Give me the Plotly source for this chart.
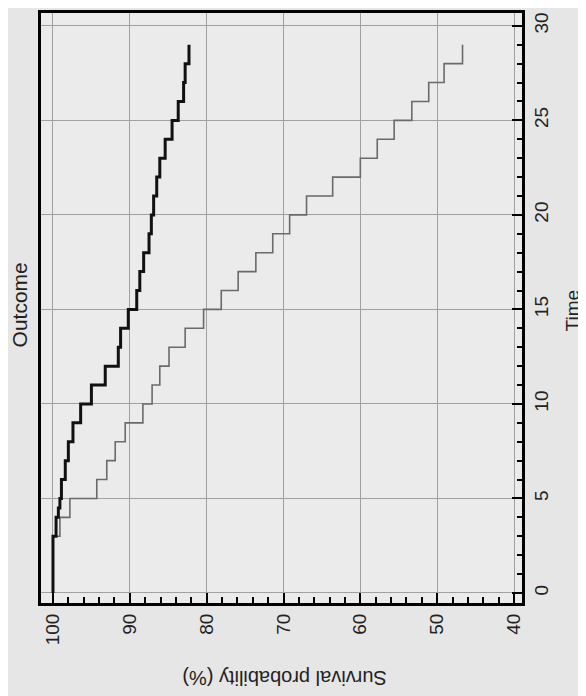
import plotly.graph_objects as go

# Group 1 (thick black curve): event times and survival (%) after each step
time_a = [0, 3, 4, 4.5, 5, 6, 7, 8, 9, 10, 11, 12, 13, 14, 15, 16, 17, 18, 19, 20,
          21, 22, 23, 24, 25, 26, 27, 28]
surv_a = [100, 99.6, 99.3, 99.1, 98.9, 98.4, 98.0, 97.4, 96.4, 95.0, 93.2, 91.5, 91.2,
          90.2, 89.1, 88.7, 88.2, 87.5, 87.2, 86.9, 86.5, 86.1, 85.4, 84.5, 83.7,
          83.0, 82.8, 82.3]

# Group 2 (thin grey curve)
time_b = [0, 3, 4, 5, 6, 7, 8, 9, 10, 11, 12, 13, 14, 15, 16, 17, 18, 19, 20, 21,
          22, 23, 24, 25, 26, 27, 28]
surv_b = [100, 99.1, 97.8, 94.3, 93.0, 91.9, 90.6, 88.3, 87.1, 86.1, 84.9, 82.8, 80.4,
          78.1, 75.9, 73.6, 71.4, 69.2, 67.0, 63.6, 60.0, 57.8, 55.6, 53.3, 51.1,
          49.1, 46.7]

end_time = 29

surv_ticks = [100, 90, 80, 70, 60, 50, 40]
time_ticks = [0, 5, 10, 15, 20, 25, 30]

FONT = "Arial, Liberation Sans, sans-serif"

fig = go.Figure()
fig.add_trace(go.Scatter(
    x=surv_b + [surv_b[-1]], y=time_b + [end_time],
    mode="lines", line=dict(color="#6a6a6a", width=1.6, shape="vh"),
    hoverinfo="skip", showlegend=False))
fig.add_trace(go.Scatter(
    x=surv_a + [surv_a[-1]], y=time_a + [end_time],
    mode="lines", line=dict(color="#111111", width=3, shape="vh"),
    hoverinfo="skip", showlegend=False))

# page body adds an 8px margin, so the figure is 8px smaller and margins shifted
fig.update_layout(
    width=578, height=688,
    margin=dict(l=33, r=64, t=2, b=93),
    paper_bgcolor="#e6e6e6", plot_bgcolor="#ebebeb",
    font=dict(family=FONT, size=18, color="#222222"),
    showlegend=False,
    xaxis=dict(
        range=[101.56, 38.96], tickvals=surv_ticks, ticktext=[str(v) for v in surv_ticks],
        tickangle=-90, ticks="inside", ticklen=10, tickwidth=1.5, tickcolor="black",
        showline=True, linecolor="black", linewidth=3, mirror=True,
        showgrid=True, gridcolor="#a0a0a0", gridwidth=1, zeroline=False,
        minor=dict(dtick=2, tick0=0, ticks="inside", ticklen=6, tickwidth=1.5,
                   tickcolor="black", showgrid=False),
        tickfont=dict(family=FONT, size=19, color="#222222"),
    ),
    yaxis=dict(
        range=[-0.53, 30.68], tickvals=time_ticks, ticktext=[str(v) for v in time_ticks],
        side="right", tickangle=-90, ticks="inside", ticklen=10, tickwidth=1.5,
        tickcolor="black",
        showline=True, linecolor="black", linewidth=3, mirror=True,
        showgrid=True, gridcolor="#a0a0a0", gridwidth=1, zeroline=False,
        minor=dict(dtick=1, tick0=0, ticks="inside", ticklen=5, tickwidth=1.5,
                   tickcolor="black", showgrid=False),
        tickfont=dict(family=FONT, size=19, color="#222222"),
    ),
    annotations=[
        dict(text="Outcome", xref="paper", yref="paper", x=-0.045, y=0.505,
             textangle=-90, showarrow=False, xanchor="center", yanchor="middle",
             font=dict(family=FONT, size=21, color="#222222")),
        dict(text="Time", xref="paper", yref="paper", x=1.105, y=0.495,
             textangle=-90, showarrow=False, xanchor="center", yanchor="middle",
             font=dict(family=FONT, size=19, color="#222222")),
        dict(text="Survival probability (%)", xref="paper", yref="paper", x=0.505, y=-0.127,
             textangle=180, showarrow=False, xanchor="center", yanchor="middle",
             font=dict(family=FONT, size=20, color="#222222")),
    ],
)

fig.write_html("out.html")
